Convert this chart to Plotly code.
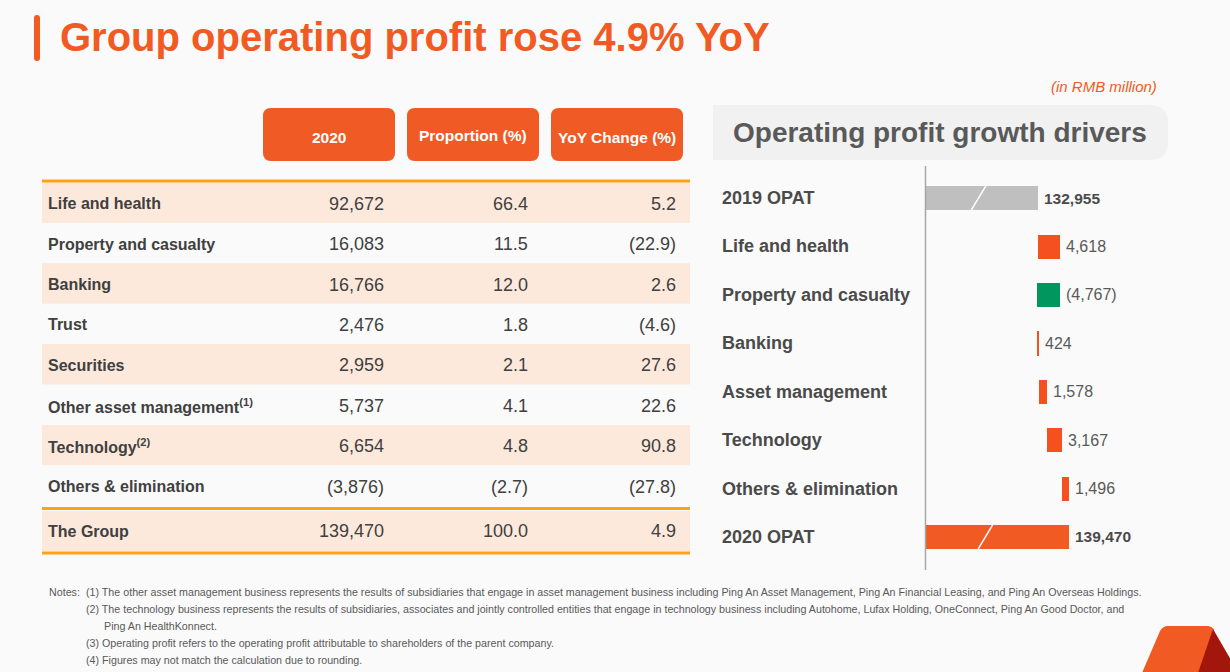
import plotly.graph_objects as go

W, H = 1230, 672

# ---------------- data ----------------
title_text = "Group operating profit rose 4.9% YoY"
unit_text = "(in RMB million)"

table_headers = ["2020", "Proportion (%)", "YoY Change (%)"]
table_segments = ["Life and health", "Property and casualty", "Banking", "Trust", "Securities",
                  "Other asset management<sup>(1)</sup>", "Technology<sup>(2)</sup>",
                  "Others & elimination"]
profit_2020 = [92672, 16083, 16766, 2476, 2959, 5737, 6654, -3876]
proportion_pct = [66.4, 11.5, 12.0, 1.8, 2.1, 4.1, 4.8, -2.7]
yoy_change_pct = [5.2, -22.9, 2.6, -4.6, 27.6, 22.6, 90.8, -27.8]
group_label = "The Group"
group_profit = 139470
group_proportion = 100.0
group_yoy = 4.9

drivers_title = "Operating profit growth drivers"
drivers = ["2019 OPAT", "Life and health", "Property and casualty", "Banking",
           "Asset management", "Technology", "Others & elimination", "2020 OPAT"]
driver_values = [132955, 4618, -4767, 424, 1578, 3167, 1496, 139470]
driver_is_total = [True, False, False, False, False, False, False, True]

notes = [
    "Notes:",
    "(1) The other asset management business represents the results of subsidiaries that engage in asset management business including Ping An Asset Management, Ping An Financial Leasing, and Ping An Overseas Holdings.",
    "(2) The technology business represents the results of subsidiaries, associates and jointly controlled entities that engage in technology business including Autohome, Lufax Holding, OneConnect, Ping An Good Doctor, and",
    "Ping An HealthKonnect.",
    "(3) Operating profit refers to the operating profit attributable to shareholders of the parent company.",
    "(4) Figures may not match the calculation due to rounding.",
]

# ---------------- styles ----------------
FONT = "Liberation Sans, Arial, sans-serif"
ORANGE = "#F15A22"
ORANGE_BAR = "#F4511E"
GREEN = "#00965E"
GREY_BAR = "#BFBFBF"
LINE_ORANGE = "#FFA215"
PEACH = "#FDE9DC"
DARK = "#404040"
MID = "#595959"


def px(x):
    return x / W


def py(y):
    return 1 - y / H


def P(x, y):
    return f"{px(x):.5f},{py(y):.5f}"


def rrect(x0, y0, x1, y1, tl, tr, br, bl):
    return (f"M {P(x0 + tl, y0)} L {P(x1 - tr, y0)} Q {P(x1, y0)} {P(x1, y0 + tr)} "
            f"L {P(x1, y1 - br)} Q {P(x1, y1)} {P(x1 - br, y1)} L {P(x0 + bl, y1)} "
            f"Q {P(x0, y1)} {P(x0, y1 - bl)} L {P(x0, y0 + tl)} Q {P(x0, y0)} {P(x0 + tl, y0)} Z")


def fmt_int(v):
    return f"({abs(v):,})" if v < 0 else f"{v:,}"


def fmt_pct(v):
    return f"({abs(v):.1f})" if v < 0 else f"{v:.1f}"


shapes = []
annotations = []

# ---------------- page title ----------------
shapes.append(dict(type="path", xref="paper", yref="paper",
                   path=rrect(34, 15, 40, 61, 3, 3, 3, 3),
                   fillcolor=ORANGE, line=dict(width=0)))
annotations.append(dict(text=f"<b>{title_text}</b>", x=px(58), y=py(37), xref="paper", yref="paper",
                        xanchor="left", yanchor="middle", showarrow=False,
                        font=dict(family=FONT, size=40, color=ORANGE)))
annotations.append(dict(text=f"<i>{unit_text}</i>", x=px(1159), y=py(86), xref="paper", yref="paper",
                        xanchor="right", yanchor="middle", showarrow=False,
                        font=dict(family=FONT, size=15, color=ORANGE)))

# ---------------- table ----------------
header_boxes = [(263, 395), (407, 539), (551, 683)]
header_y = [137, 135, 137]
for (x0, x1), label, hy in zip(header_boxes, table_headers, header_y):
    shapes.append(dict(type="path", xref="paper", yref="paper",
                       path=rrect(x0, 108, x1, 161, 8, 8, 8, 8),
                       fillcolor="#F05A24", line=dict(width=0)))
    annotations.append(dict(text=f"<b>{label}</b>", x=px((x0 + x1) / 2), y=py(hy),
                            xref="paper", yref="paper", xanchor="center", yanchor="middle",
                            showarrow=False, font=dict(family=FONT, size=15.5, color="white")))

TX0, TX1 = 42, 690
row_top, row_h = 182.5, 40.4
col_right = [386, 530, 678]
for i, seg in enumerate(table_segments):
    y0 = row_top + i * row_h
    yc = y0 + row_h / 2 + 1
    if i % 2 == 0:
        shapes.append(dict(type="rect", xref="paper", yref="paper", x0=px(TX0), x1=px(TX1),
                           y0=py(y0), y1=py(y0 + row_h), fillcolor=PEACH, line=dict(width=0), layer="below"))
    annotations.append(dict(text=f"<b>{seg}</b>", x=px(46), y=py(yc), xref="paper", yref="paper",
                            xanchor="left", yanchor="middle", showarrow=False,
                            font=dict(family=FONT, size=16, color=DARK)))
    for cx, val in zip(col_right, [fmt_int(profit_2020[i]), fmt_pct(proportion_pct[i]),
                                   fmt_pct(yoy_change_pct[i])]):
        annotations.append(dict(text=val, x=px(cx), y=py(yc), xref="paper", yref="paper",
                                xanchor="right", yanchor="middle", showarrow=False,
                                font=dict(family=FONT, size=18, color=DARK)))

# group row
gy0, gy1 = 511, 551
shapes.append(dict(type="rect", xref="paper", yref="paper", x0=px(TX0), x1=px(TX1),
                   y0=py(gy0), y1=py(gy1), fillcolor=PEACH, line=dict(width=0), layer="below"))
annotations.append(dict(text=f"<b>{group_label}</b>", x=px(46), y=py(531), xref="paper", yref="paper",
                        xanchor="left", yanchor="middle", showarrow=False,
                        font=dict(family=FONT, size=16, color=DARK)))
for cx, val in zip(col_right, [fmt_int(group_profit), fmt_pct(group_proportion), fmt_pct(group_yoy)]):
    annotations.append(dict(text=val, x=px(cx), y=py(531), xref="paper", yref="paper",
                            xanchor="right", yanchor="middle", showarrow=False,
                            font=dict(family=FONT, size=18, color=DARK)))

for ly in [181, 508.5, 553]:
    shapes.append(dict(type="line", xref="paper", yref="paper", x0=px(TX0), x1=px(TX1),
                       y0=py(ly), y1=py(ly), line=dict(color=LINE_ORANGE, width=3)))

# ---------------- drivers title ----------------
shapes.append(dict(type="path", xref="paper", yref="paper",
                   path=rrect(713, 105, 1168, 160, 0, 18, 18, 0),
                   fillcolor="#F1F1F1", line=dict(width=0), layer="below"))
annotations.append(dict(text=f"<b>{drivers_title}</b>", x=px(731), y=py(133), xref="paper", yref="paper",
                        xanchor="left", yanchor="middle", showarrow=False,
                        font=dict(family=FONT, size=28, color=MID)))

# ---------------- waterfall ----------------
bases, lengths, colors, ends = [], [], [], []
cum = 0
for idx, (v, tot) in enumerate(zip(driver_values, driver_is_total)):
    if tot:
        bases.append(0)
        lengths.append(v)
        cum = v
        colors.append(GREY_BAR if idx == 0 else ORANGE)
        ends.append(v)
    else:
        start, end = cum, cum + v
        bases.append(min(start, end))
        lengths.append(abs(v))
        colors.append(GREEN if v < 0 else ORANGE_BAR)
        ends.append(max(start, end))
        cum = end

ypos = list(range(len(drivers)))
fig = go.Figure()
fig.add_trace(go.Bar(x=lengths, y=ypos, base=bases, orientation="h", width=0.5,
                     marker=dict(color=colors, line=dict(width=0)),
                     hoverinfo="skip", showlegend=False))

X_MIN = 110000
PX_PER_UNIT = 205.5
X_LEFT = 926
x_max = X_MIN + (W - X_LEFT) * PX_PER_UNIT

for i, (name, v, tot, e) in enumerate(zip(drivers, driver_values, driver_is_total, ends)):
    annotations.append(dict(text=f"<b>{name}</b>", x=px(720), y=i, xref="paper", yref="y",
                            xanchor="left", yanchor="middle", showarrow=False,
                            font=dict(family=FONT, size=18, color="#4A4A4A")))
    label = f"<b>{v:,}</b>" if tot else fmt_int(v)
    annotations.append(dict(text=label, x=e, y=i, xref="x", yref="y", xanchor="left",
                            yanchor="middle", xshift=4, showarrow=False,
                            font=dict(family=FONT, size=15.5 if tot else 16,
                                      color="#4A4A4A" if tot else MID)))
    if tot:
        brk = 120800 + i * 200
        shapes.append(dict(type="line", xref="x", yref="y", x0=brk + 1500, x1=brk - 1500,
                           y0=i - 0.25, y1=i + 0.25, line=dict(color="white", width=1.5)))

shapes.append(dict(type="line", xref="paper", yref="paper", x0=px(925.5), x1=px(925.5),
                   y0=py(166), y1=py(570), line=dict(color="#A6A6A6", width=1.5)))

# ---------------- notes ----------------
note_pos = [(47, 592), (84, 592), (84, 609), (102, 626), (84, 643), (84, 660)]
for (nx, ny), t in zip(note_pos, notes):
    annotations.append(dict(text=t, x=px(nx), y=py(ny), xref="paper", yref="paper",
                            xanchor="left", yanchor="middle", showarrow=False,
                            font=dict(family=FONT, size=10.7, color=MID)))

# ---------------- corner logo ----------------
shapes.append(dict(type="path", xref="paper", yref="paper",
                   path=f"M {P(1142, 673)} L {P(1160, 631)} Q {P(1163, 626)} {P(1168, 626)} "
                        f"L {P(1207, 626)} Q {P(1212, 626)} {P(1214, 630)} L {P(1199, 673)} Z",
                   fillcolor="#F15A22", line=dict(width=0)))
shapes.append(dict(type="path", xref="paper", yref="paper",
                   path=f"M {P(1213, 629)} L {P(1231, 660)} L {P(1231, 673)} L {P(1198, 673)} Z",
                   fillcolor="#A3160C", line=dict(width=0)))

fig.update_layout(
    width=W, height=H,
    margin=dict(l=0, r=0, t=0, b=0),
    paper_bgcolor="#FAFAFA",
    plot_bgcolor="rgba(0,0,0,0)",
    xaxis=dict(domain=[px(X_LEFT), 1], range=[X_MIN, x_max], visible=False, fixedrange=True),
    yaxis=dict(domain=[py(561.2), py(173.8)], range=[7.5, -0.5], visible=False, fixedrange=True),
    shapes=shapes,
    annotations=annotations,
    bargap=0,
    font=dict(family=FONT),
)

fig.write_html("out.html", config={"displayModeBar": False},
               post_script="document.body.style.margin='0px';document.body.style.overflow='hidden';")
